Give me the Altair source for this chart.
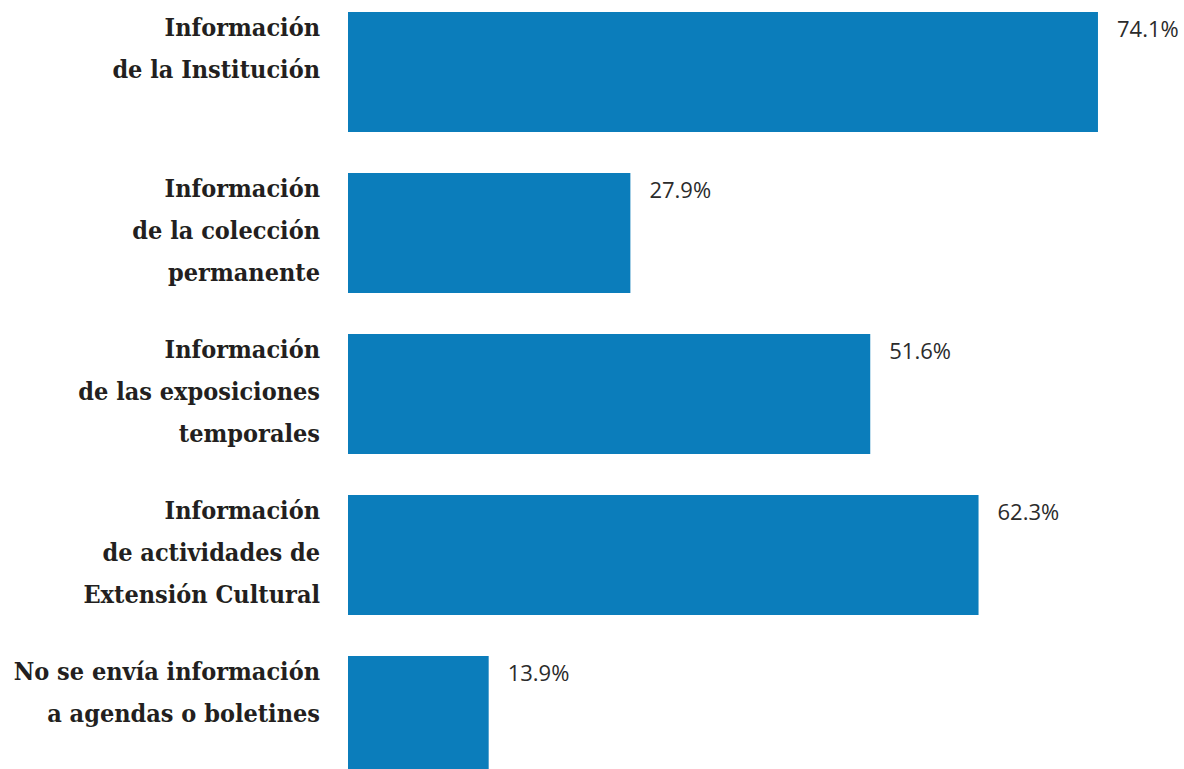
import altair as alt
import pandas as pd

categories = [
    "Información\nde la Institución",
    "Información\nde la colección\npermanente",
    "Información\nde las exposiciones\ntemporales",
    "Información\nde actividades de\nExtensión Cultural",
    "No se envía información\na agendas o boletines",
]
values = [74.1, 27.9, 51.6, 62.3, 13.9]
value_labels = ["74.1%", "27.9%", "51.6%", "62.3%", "13.9%"]

df = pd.DataFrame({"cat": categories, "val": values, "lbl": value_labels})

yscale = alt.Scale(domain=categories, range=[0, 788], paddingInner=0.255, paddingOuter=0.0745)
xscale = alt.Scale(domain=[0, 82.6])

bars = alt.Chart(df).mark_bar(color="#0b7dbb", clip=True).encode(
    y=alt.Y("cat:N", sort=categories, scale=yscale, axis=None),
    x=alt.X("val:Q", scale=xscale, axis=None),
)

vals = alt.Chart(df).mark_text(
    align="left", baseline="alphabetic", dx=19, dy=25,
    font="Open Sans", fontSize=22, color="#2b2b2b",
).encode(
    y=alt.Y("cat:N", sort=categories, scale=yscale, axis=None, bandPosition=0),
    x=alt.X("val:Q", scale=xscale, axis=None),
    text="lbl:N",
)

labels = alt.Chart(df).mark_text(
    align="right", baseline="alphabetic", dy=24, lineBreak="\n", lineHeight=42,
    font="DejaVu Serif Condensed", fontWeight="bold", fontSize=25, color="#231f20",
).encode(
    y=alt.Y("cat:N", sort=categories, scale=yscale, axis=None, bandPosition=0),
    x=alt.value(-28),
    text="cat:N",
)

chart = alt.layer(bars, vals, labels).properties(
    width=836, height=769,
    padding={"left": 348, "top": 0, "right": 0, "bottom": 0},
    autosize=alt.AutoSizeParams(type="none"),
).configure_view(stroke=None)

chart.save("out.html", embed_options={"renderer": "svg", "actions": False})
